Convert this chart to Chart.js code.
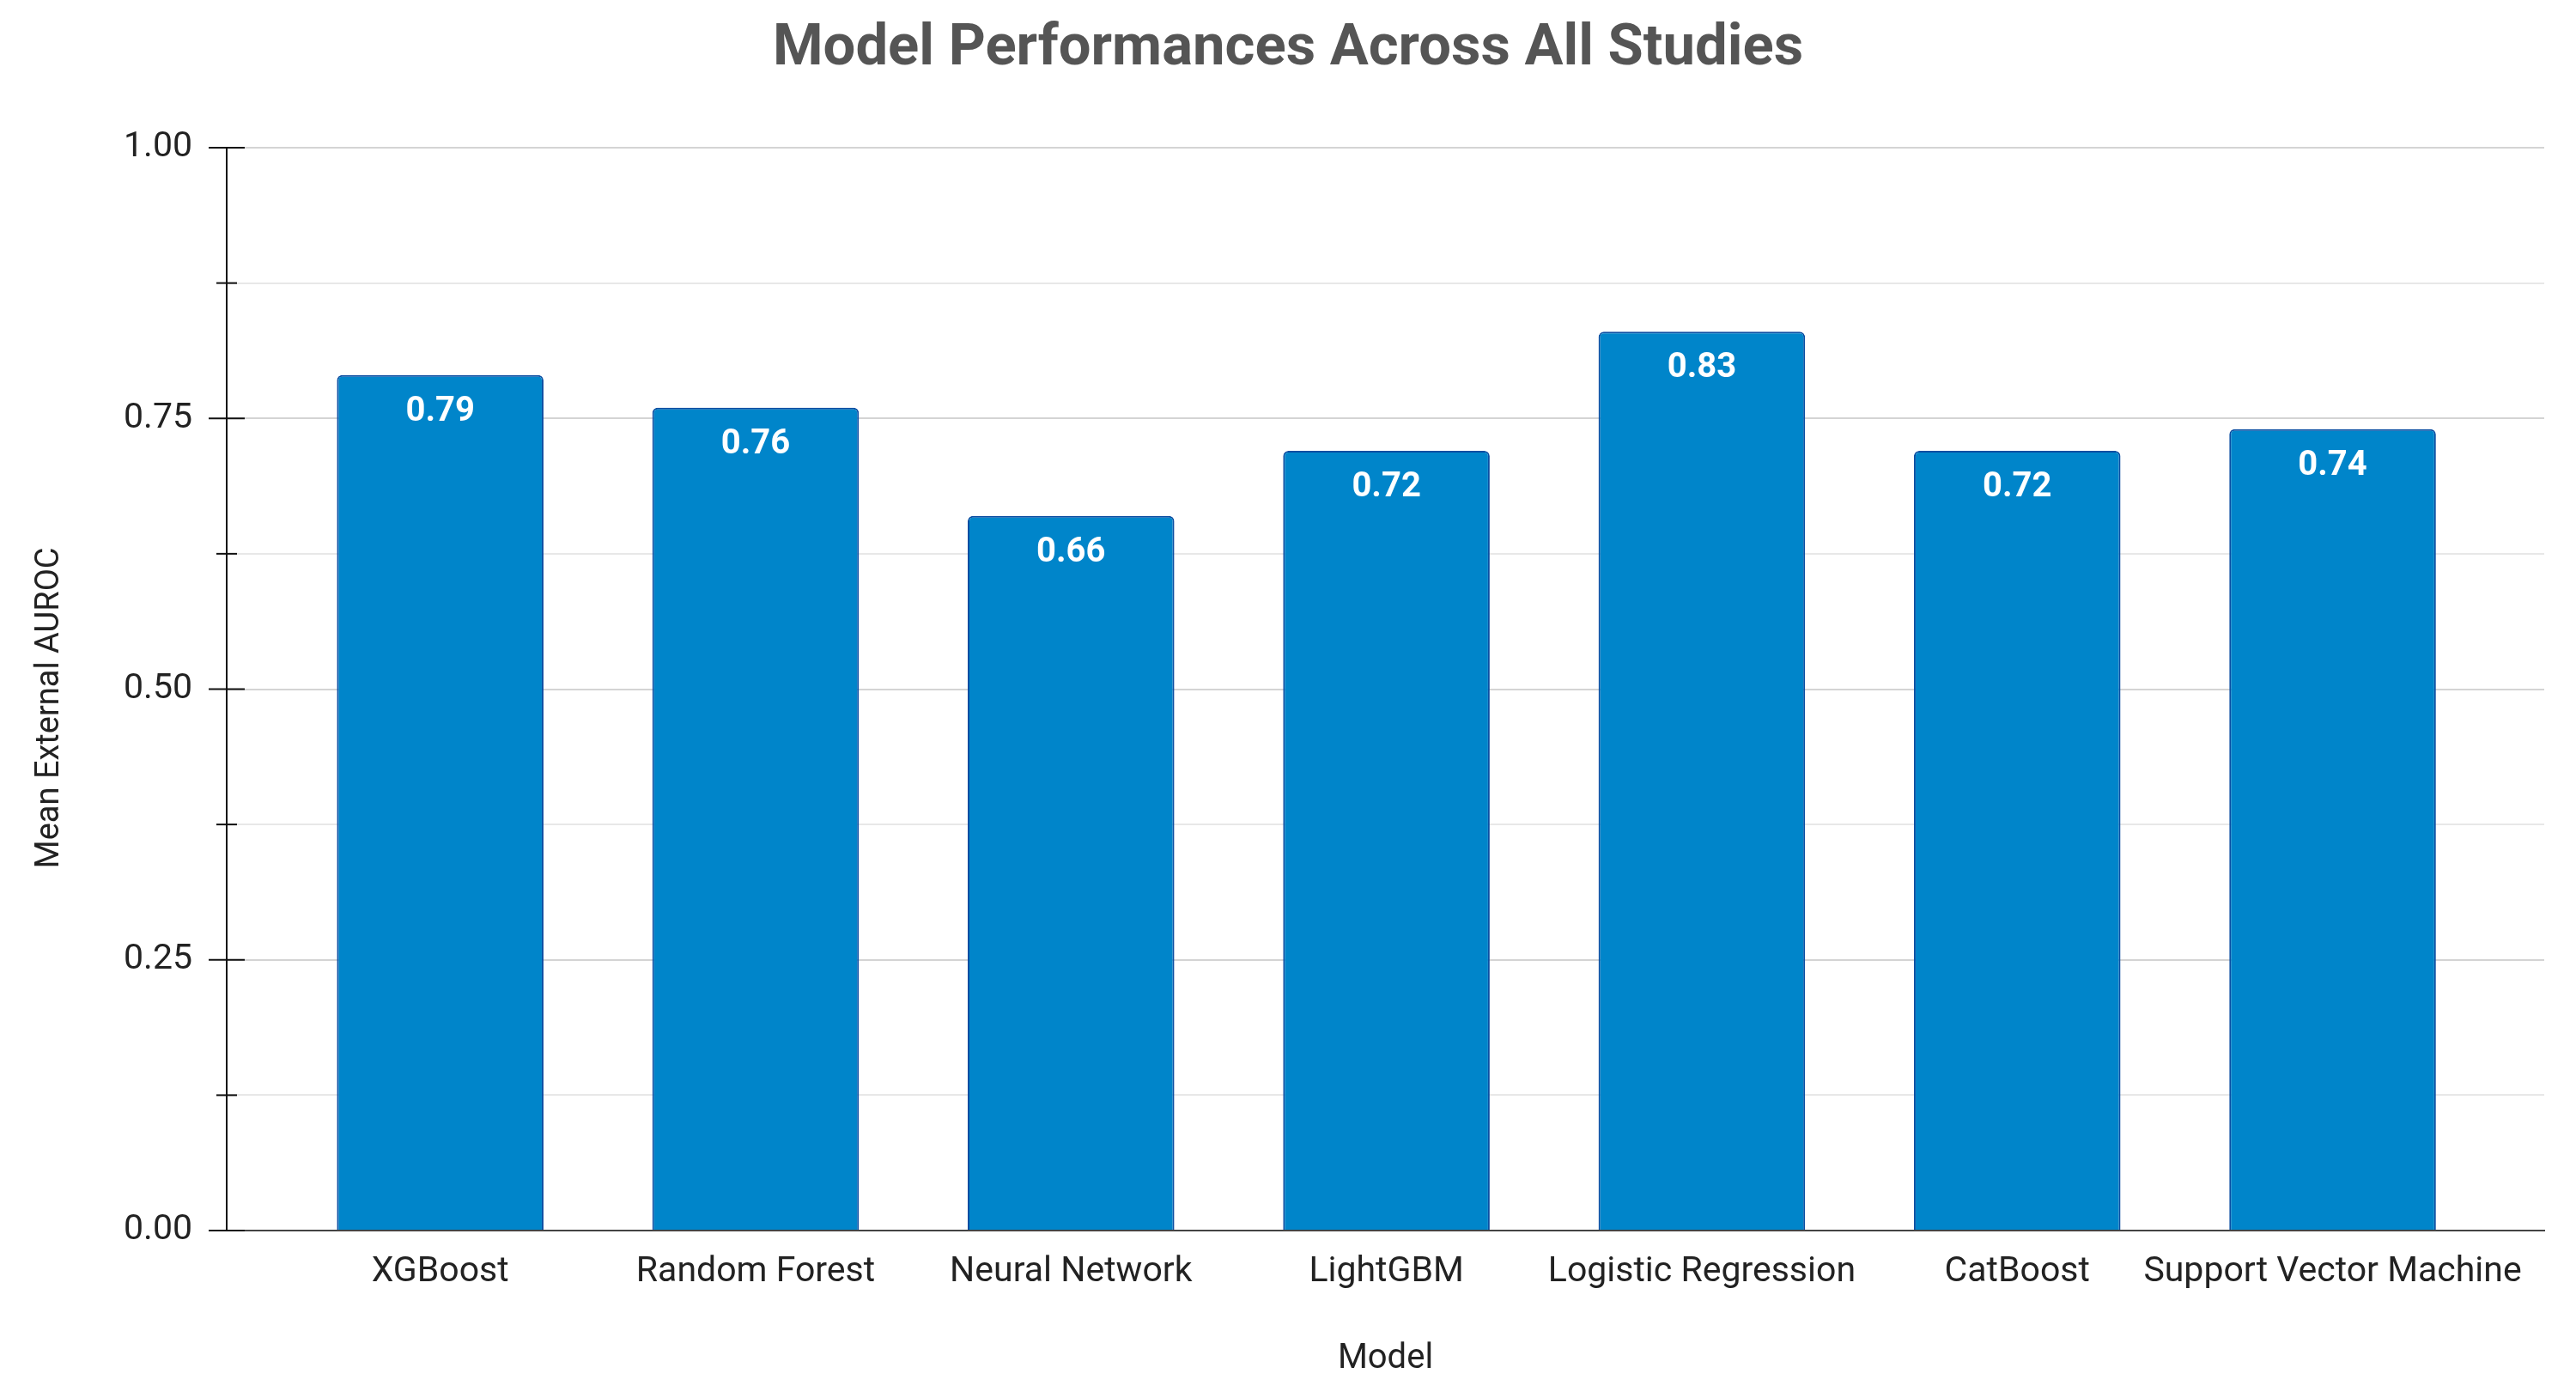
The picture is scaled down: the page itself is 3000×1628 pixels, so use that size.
<!DOCTYPE html>
<html>
<head>
<meta charset="utf-8">
<script src="https://cdn.jsdelivr.net/npm/chart.js@4.4.1/dist/chart.umd.min.js"></script>
<style>
  html, body { margin: 0; padding: 0; background: #ffffff; }
  #wrap { width: 3000px; height: 1628px; }
</style>
</head>
<body>
<div id="wrap"><canvas id="c" width="3000" height="1628"></canvas></div>
<script>
const categories = ["XGBoost", "Random Forest", "Neural Network", "LightGBM", "Logistic Regression", "CatBoost", "Support Vector Machine"];
const aurocValues = [0.79, 0.76, 0.66, 0.72, 0.83, 0.72, 0.74];
const yMajorTicks = [0, 0.25, 0.5, 0.75, 1.0];
const chartTitle = 'Model Performances Across All Studies';
const yAxisTitle = 'Mean External AUROC';

const FONT = "Roboto, 'Noto Sans', 'DejaVu Sans', sans-serif";

const decorations = {
  id: 'decorations',
  afterDraw(chart) {
    const ys = chart.scales.y;
    const ctx = chart.ctx;
    const x0 = chart.chartArea.left;
    ctx.save();
    ctx.strokeStyle = '#111111';
    ctx.lineWidth = 2;
    ys.ticks.forEach(t => {
      const py = ys.getPixelForValue(t.value);
      const major = yMajorTicks.some(v => Math.abs(v - t.value) < 1e-6);
      const len = major ? 21 : 12;
      ctx.beginPath();
      ctx.moveTo(x0 - len, py);
      ctx.lineTo(x0 + len, py);
      ctx.stroke();
    });
    // chart title, centred on the full canvas
    ctx.fillStyle = '#555555';
    ctx.font = "bold 67px " + FONT;
    ctx.textAlign = 'center';
    ctx.textBaseline = 'middle';
    ctx.fillText(chartTitle, chart.width / 2, 58);
    // y axis title
    ctx.fillStyle = '#222222';
    ctx.font = "38px " + FONT;
    ctx.translate(58, (chart.chartArea.top + chart.chartArea.bottom) / 2 + 22);
    ctx.rotate(-Math.PI / 2);
    ctx.fillText(yAxisTitle, 0, 0);
    ctx.restore();
  }
};

const barLabels = {
  id: 'barLabels',
  afterDatasetsDraw(chart) {
    const ctx = chart.ctx;
    const meta = chart.getDatasetMeta(0);
    ctx.save();
    ctx.fillStyle = '#ffffff';
    ctx.font = "bold 40px " + FONT;
    ctx.textAlign = 'center';
    ctx.textBaseline = 'middle';
    meta.data.forEach((bar, i) => {
      ctx.fillText(aurocValues[i].toFixed(2), bar.x, bar.y + 43);
    });
    ctx.restore();
  }
};

new Chart(document.getElementById('c'), {
  type: 'bar',
  data: {
    datasets: [{
      data: aurocValues.map((v, i) => ({ x: i, y: v })),
      backgroundColor: '#0085CA',
      borderColor: '#0B4EA2',
      borderWidth: 2,
      borderSkipped: 'start',
      borderRadius: 6,
      categoryPercentage: 1.0,
      barPercentage: 0.655
    }]
  },
  options: {
    responsive: false,
    devicePixelRatio: 1,
    animation: false,
    layout: { padding: { left: 0, right: 37, top: 172, bottom: 0 } },
    plugins: {
      legend: { display: false },
      tooltip: { enabled: false },
      title: { display: false }
    },
    scales: {
      x: {
        type: 'linear',
        offset: false,
        min: -0.677,
        max: 6.671,
        afterBuildTicks(scale) {
          scale.ticks = categories.map((_, i) => ({ value: i }));
        },
        afterFit(scale) { scale.height = 195; },
        ticks: {
          autoSkip: false,
          maxRotation: 0,
          padding: 24,
          color: '#222222',
          font: { family: FONT, size: 41 },
          callback: (v) => categories[v] !== undefined ? categories[v] : ''
        },
        grid: { display: false, drawTicks: false, offset: false },
        border: { display: true, color: '#444444', width: 2 },
        title: {
          display: true,
          text: 'Model',
          color: '#222222',
          font: { family: FONT, size: 40 },
          padding: { top: 0, bottom: 21 }
        }
      },
      y: {
        min: 0,
        max: 1,
        afterBuildTicks(scale) {
          const t = [];
          for (let k = 0; k <= 8; k++) t.push({ value: k * 0.125 });
          scale.ticks = t;
        },
        afterFit(scale) { scale.width = 264; },
        ticks: {
          padding: 40,
          color: '#222222',
          font: { family: FONT, size: 41 },
          callback: (v) => yMajorTicks.some(m => Math.abs(m - v) < 1e-6) ? Number(v).toFixed(2) : ''
        },
        grid: {
          drawTicks: false,
          lineWidth: 2,
          color: (ctx) => {
            const v = ctx.tick ? ctx.tick.value : 0;
            return yMajorTicks.some(m => Math.abs(m - v) < 1e-6) ? '#d4d4d4' : '#e8e8e8';
          }
        },
        border: { display: true, color: '#111111', width: 2 },
        title: { display: false }
      }
    }
  },
  plugins: [decorations, barLabels]
});
</script>
</body>
</html>
